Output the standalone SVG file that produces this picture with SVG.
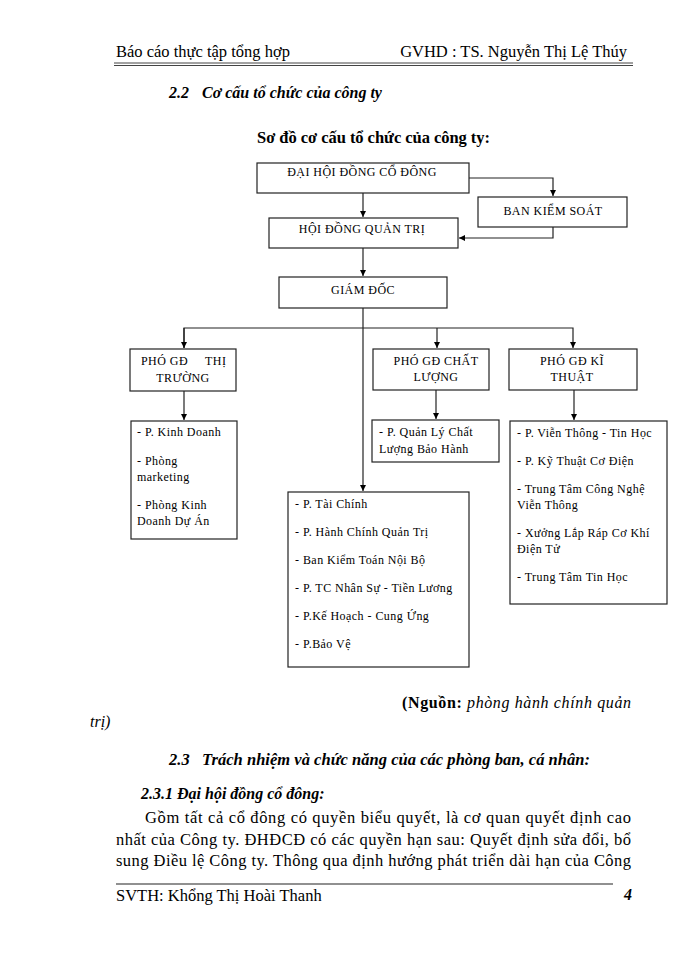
<svg xmlns="http://www.w3.org/2000/svg" width="700" height="960" viewBox="0 0 700 960">
<defs>
<style>
.t{font-family:"Liberation Serif","Times New Roman","DejaVu Serif",serif;fill:#000}
.b{font-size:12px;letter-spacing:0.45px}
.c{text-anchor:middle}
.box{fill:#fff;stroke:#222;stroke-width:1.2}
.ln{fill:none;stroke:#222;stroke-width:1.2}
.bi{font-weight:bold;font-style:italic}
</style>
<marker id="ah" viewBox="0 0 10 10" refX="10" refY="5" markerWidth="6" markerHeight="6" orient="auto" markerUnits="userSpaceOnUse">
<path d="M0,0 L10,5 L0,10 z" fill="#000"/>
</marker>
</defs>
<rect width="700" height="960" fill="#fff"/>

<!-- page header -->
<text class="t" x="116" y="57" font-size="16.5">Báo cáo thực tập tổng hợp</text>
<text class="t" x="627" y="57" font-size="16.5" text-anchor="end">GVHD : TS. Nguyễn  Thị Lệ Thúy</text>
<line x1="114" y1="63" x2="633" y2="63" stroke="#444" stroke-width="1"/>
<line x1="114" y1="65.5" x2="633" y2="65.5" stroke="#444" stroke-width="1"/>

<text class="t bi" x="169" y="98" font-size="16">2.2<tspan x="202">Cơ cấu tổ chức của công ty</tspan></text>
<text class="t" x="257" y="143" font-size="16.5" font-weight="bold" textLength="233" lengthAdjust="spacing">Sơ đồ cơ cấu tổ chức của công ty:</text>

<!-- connectors -->
<g id="connectors">
<path class="ln" d="M469,178 H553 V196" marker-end="url(#ah)"/>
<path class="ln" d="M553,227 V238 H459" marker-end="url(#ah)"/>
<line class="ln" x1="363" y1="193" x2="363" y2="217" marker-end="url(#ah)"/>
<line class="ln" x1="363" y1="248" x2="363" y2="276" marker-end="url(#ah)"/>
<line class="ln" x1="363" y1="308" x2="363" y2="491" marker-end="url(#ah)"/>
<path class="ln" d="M184,348 V328 H573 V348" marker-end="url(#ah)"/>
<line class="ln" x1="184" y1="328" x2="184" y2="348" marker-end="url(#ah)"/>
<line class="ln" x1="437" y1="328" x2="437" y2="348" marker-end="url(#ah)"/>
<line class="ln" x1="184" y1="391" x2="184" y2="420" marker-end="url(#ah)"/>
<line class="ln" x1="436" y1="390" x2="436" y2="419" marker-end="url(#ah)"/>
<line class="ln" x1="574" y1="390" x2="574" y2="420" marker-end="url(#ah)"/>
</g>

<g id="dhdcd">
<rect class="box" x="257" y="163" width="212" height="30"/>
<text class="t b c" x="362" y="176">ĐẠI HỘI ĐỒNG CỔ ĐÔNG</text>
</g>
<g id="bks">
<rect class="box" x="478" y="197" width="149" height="30"/>
<text class="t b c" x="553" y="215">BAN KIỂM SOÁT</text>
</g>
<g id="hdqt">
<rect class="box" x="269" y="218" width="189" height="30"/>
<text class="t b c" x="362" y="233">HỘI ĐỒNG QUẢN TRỊ</text>
</g>
<g id="giamdoc">
<rect class="box" x="279" y="277" width="168" height="31"/>
<text class="t b c" x="363" y="294">GIÁM ĐỐC</text>
</g>
<g id="pgd-thitruong">
<rect class="box" x="130" y="349" width="106" height="42"/>
<text class="t b" x="141" y="365">PHÓ GĐ</text>
<text class="t b" x="205" y="365">THỊ</text>
<text class="t b c" x="183" y="382">TRƯỜNG</text>
</g>
<g id="pgd-chatluong">
<rect class="box" x="373" y="349" width="116" height="41"/>
<text class="t b c" x="436" y="365">PHÓ GĐ CHẤT</text>
<text class="t b c" x="436" y="381">LƯỢNG</text>
</g>
<g id="pgd-kythuat">
<rect class="box" x="509" y="349" width="128" height="41"/>
<text class="t b c" x="572" y="365">PHÓ GĐ KĨ</text>
<text class="t b c" x="572" y="381">THUẬT</text>
</g>
<g id="p-thitruong">
<rect class="box" x="131" y="421" width="106" height="118"/>
<text class="t b" x="137" y="436">- P. Kinh Doanh</text>
<text class="t b" x="137" y="465">- Phòng</text>
<text class="t b" x="137" y="481">marketing</text>
<text class="t b" x="137" y="509">- Phòng Kinh</text>
<text class="t b" x="137" y="525">Doanh Dự Án</text>
</g>
<g id="p-chatluong">
<rect class="box" x="372" y="420" width="127" height="42"/>
<text class="t b" x="379" y="436">- P. Quản Lý Chất</text>
<text class="t b" x="379" y="453">Lượng Bảo Hành</text>
</g>
<g id="p-giamdoc">
<rect class="box" x="288" y="492" width="181" height="175"/>
<text class="t b" x="295" y="508">- P. Tài Chính</text>
<text class="t b" x="295" y="536">- P. Hành Chính Quản Trị</text>
<text class="t b" x="295" y="564">- Ban Kiểm Toán Nội Bộ</text>
<text class="t b" x="295" y="592">- P. TC Nhân Sự - Tiền Lương</text>
<text class="t b" x="295" y="620">- P.Kế Hoạch - Cung Ứng</text>
<text class="t b" x="295" y="648">- P.Bảo Vệ</text>
</g>
<g id="p-kythuat">
<rect class="box" x="510" y="421" width="157" height="183"/>
<text class="t b" x="517" y="437">- P. Viễn Thông - Tin Học</text>
<text class="t b" x="517" y="465">- P. Kỹ Thuật Cơ Điện</text>
<text class="t b" x="517" y="493">- Trung Tâm Công Nghệ</text>
<text class="t b" x="517" y="509">Viễn Thông</text>
<text class="t b" x="517" y="537">- Xưởng Lắp Ráp Cơ Khí</text>
<text class="t b" x="517" y="553">Điện Tử</text>
<text class="t b" x="517" y="581">- Trung Tâm Tin Học</text>
</g>

<!-- body text -->
<text class="t" x="402" y="708" font-size="16" textLength="229" lengthAdjust="spacing"><tspan font-weight="bold">(Nguồn:</tspan><tspan font-style="italic"> phòng  hành  chính  quản</tspan></text>
<text class="t" x="90" y="727" font-size="16" font-style="italic">trị)</text>
<text class="t bi" x="169" y="765" font-size="16.5">2.3</text>
<text class="t bi" x="202" y="765" font-size="16.5" textLength="388" lengthAdjust="spacing">Trách nhiệm và chức năng của các phòng ban, cá nhân:</text>
<text class="t bi" x="141" y="799" font-size="16">2.3.1<tspan x="177">Đại hội đồng cổ đông:</tspan></text>
<text class="t" x="145" y="823" font-size="16.5" textLength="486" lengthAdjust="spacing">Gồm tất cả cổ đông có quyền biểu quyết, là cơ quan quyết định cao</text>
<text class="t" x="116" y="845" font-size="16.5" textLength="515" lengthAdjust="spacing">nhất của Công ty. ĐHĐCĐ có các quyền hạn sau: Quyết định sửa đổi, bổ</text>
<text class="t" x="116" y="866" font-size="16.5" textLength="515" lengthAdjust="spacing">sung Điều lệ Công ty. Thông qua định hướng phát triển dài hạn của Công</text>
<line x1="116" y1="884" x2="613" y2="884" stroke="#222" stroke-width="1.2"/>
<text class="t" x="116" y="901" font-size="16.5">SVTH: Khổng Thị Hoài Thanh</text>
<text class="t bi" x="624" y="900" font-size="16">4</text>
</svg>
